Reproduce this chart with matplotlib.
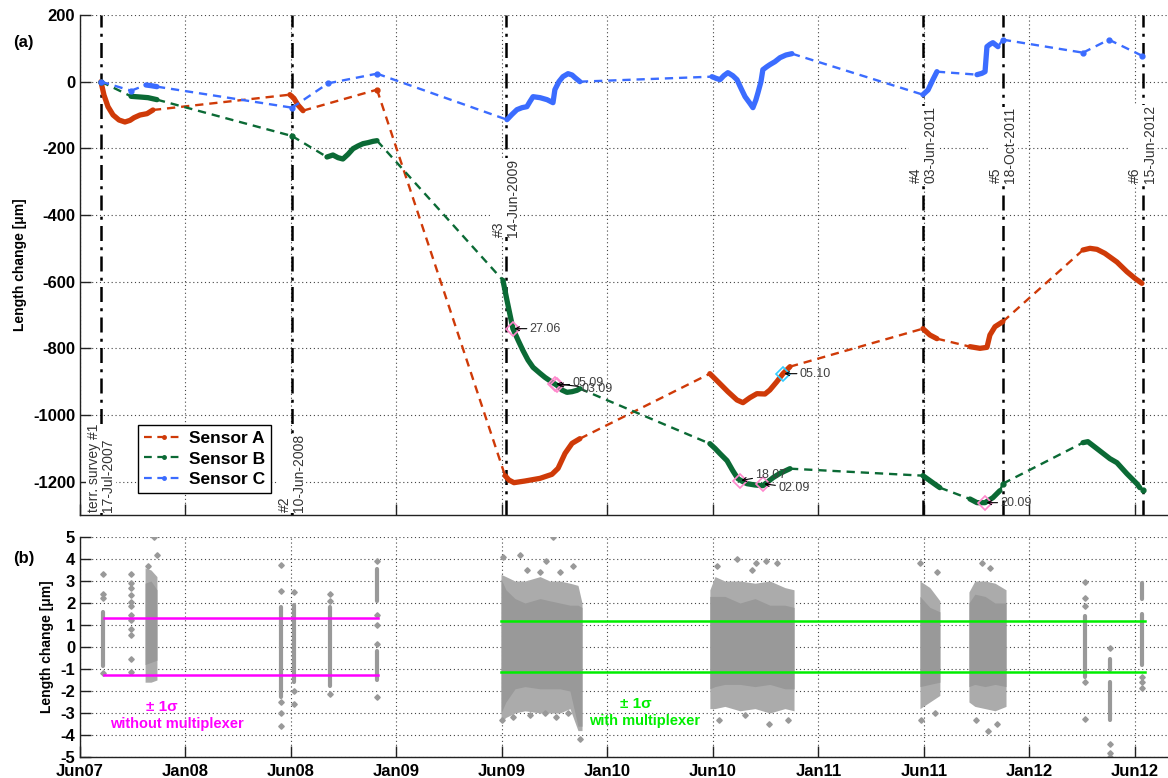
import datetime as dt
import matplotlib
matplotlib.use('Agg')
import matplotlib.pyplot as plt
from matplotlib.lines import Line2D

plt.rcParams['font.family'] = ['Liberation Sans', 'DejaVu Sans']
plt.rcParams['axes.unicode_minus'] = False

# ----------------------------------------------------------------- data
survey_names = ['terr. survey #1', '#2', '#3', '#4', '#5', '#6']
survey_dates = ['17-Jul-2007', '10-Jun-2008', '14-Jun-2009',
                '03-Jun-2011', '18-Oct-2011', '15-Jun-2012']
xtick_labels = ['Jun07', 'Jan08', 'Jun08', 'Jan09', 'Jun09', 'Jan10',
                'Jun10', 'Jan11', 'Jun11', 'Jan12', 'Jun12']
sensor_names = ['Sensor A', 'Sensor B', 'Sensor C']

# time in decimal years, length change in micrometres; one sub-list per measuring period
sensor_a_t = [
    [2007.540, 2007.554, 2007.573, 2007.597, 2007.625, 2007.653, 2007.677, 2007.696, 2007.724, 2007.757, 2007.785],
    [2008.431, 2008.450, 2008.469, 2008.493],
    [2008.842],
    [2009.446, 2009.464, 2009.488, 2009.540, 2009.611, 2009.667, 2009.696, 2009.729, 2009.762, 2009.799],
    [2010.412, 2010.450, 2010.497, 2010.540, 2010.568, 2010.601, 2010.634, 2010.672, 2010.695, 2010.728, 2010.757, 2010.790],
    [2011.417, 2011.450, 2011.483],
    [2011.639, 2011.686, 2011.719, 2011.733, 2011.757, 2011.794],
    [2012.172, 2012.205, 2012.238, 2012.275, 2012.332, 2012.379, 2012.417, 2012.450],
]
sensor_a_v = [
    [0, -40, -75, -100, -115, -121, -116, -108, -100, -96, -85],
    [-39, -50, -70, -87],
    [-24],
    [-1182, -1195, -1203, -1198, -1190, -1178, -1160, -1115, -1085, -1071],
    [-876, -900, -930, -955, -963, -948, -936, -937, -925, -900, -876, -855],
    [-741, -760, -771],
    [-795, -800, -797, -760, -735, -720],
    [-505, -500, -503, -515, -541, -570, -590, -605],
]

sensor_b_t = [
    [2007.540],
    [2007.682, 2007.724, 2007.762, 2007.804],
    [2008.441],
    [2008.606, 2008.634, 2008.658, 2008.681, 2008.705, 2008.729, 2008.752, 2008.776, 2008.799, 2008.823, 2008.842],
    [2009.436, 2009.455, 2009.483, 2009.507, 2009.530, 2009.554, 2009.578, 2009.611, 2009.634, 2009.657,
     2009.691, 2009.714, 2009.738, 2009.762, 2009.785, 2009.799],
    [2010.412, 2010.436, 2010.460, 2010.493, 2010.520, 2010.544, 2010.568, 2010.587, 2010.625, 2010.662,
     2010.686, 2010.710, 2010.743, 2010.790],
    [2011.417, 2011.450, 2011.483, 2011.497],
    [2011.639, 2011.672, 2011.710, 2011.747, 2011.780],
    [2011.794],
    [2012.172, 2012.195, 2012.238, 2012.299, 2012.332, 2012.379, 2012.426, 2012.440],
    [2012.455],
]
sensor_b_v = [
    [0],
    [-44, -46, -48, -54],
    [-163],
    [-226, -220, -228, -232, -218, -201, -193, -186, -183, -179, -177],
    [-596, -656, -741, -775, -806, -835, -857, -875, -887, -897, -911, -925, -932, -930, -926, -921],
    [-1086, -1100, -1116, -1137, -1167, -1191, -1200, -1206, -1210, -1212, -1200, -1188, -1175, -1161],
    [-1182, -1197, -1212, -1218],
    [-1252, -1263, -1263, -1248, -1227],
    [-1206],
    [-1083, -1080, -1101, -1131, -1143, -1176, -1206, -1218],
    [-1224],
]

sensor_c_t = [
    [2007.540],
    [2007.682],
    [2007.752, 2007.776, 2007.804],
    [2008.441],
    [2008.611],
    [2008.842],
    [2009.455, 2009.479, 2009.502, 2009.526, 2009.549, 2009.563, 2009.578, 2009.611, 2009.644, 2009.672,
     2009.681, 2009.700, 2009.719, 2009.743, 2009.762, 2009.776, 2009.799],
    [2010.422, 2010.441, 2010.460, 2010.478, 2010.497, 2010.520, 2010.540, 2010.559, 2010.578, 2010.601,
     2010.615, 2010.629, 2010.639, 2010.653, 2010.662, 2010.681, 2010.695, 2010.719, 2010.743, 2010.771, 2010.799],
    [2011.417, 2011.441, 2011.464, 2011.483],
    [2011.672, 2011.695, 2011.710, 2011.719, 2011.733, 2011.747, 2011.771],
    [2011.794],
    [2012.172],
    [2012.294],
    [2012.450],
]
sensor_c_v = [
    [0],
    [-27],
    [-10, -12, -15],
    [-78],
    [-5],
    [24],
    [-114, -98, -84, -78, -75, -60, -45, -48, -54, -63, -24, 0, 15, 24, 20, 12, 0],
    [15, 10, 6, 18, 27, 18, 6, -20, -45, -65, -78, -55, -33, 0, 36, 45, 51, 60, 72, 80, 84],
    [-39, -25, 6, 30],
    [21, 25, 30, 105, 112, 117, 105],
    [126],
    [87],
    [126],
    [78],
]

# data tips in panel (a)
tip_labels = ['27.06', '05.09', '03.09', '18.07', '02.09', '05.10', '20.09']
tip_t = [2009.483, 2009.691, 2009.681, 2010.554, 2010.662, 2010.757, 2011.710]
tip_v = [-741, -911, -906, -1197, -1206, -876, -1263]

# panel (b): residuals
res_col_t = [2007.549, 2007.682, 2008.389, 2008.450, 2008.620, 2008.842, 2012.183, 2012.299, 2012.450]
res_col_lo = [[-0.85], [], [-2.25], [-1.6], [-1.75], [2.1, -1.5], [-1.35], [-1.05, -3.3], [-0.8, 2.2]]
res_col_hi = [[1.6], [], [1.8], [1.9], [1.8], [3.55, -0.2], [1.4], [-0.55, -1.6], [1.5, 2.9]]
res_col_pts = [
    [3.3, 2.4, 2.25, -1.2],
    [3.3, 2.9, 2.7, 2.35, 2.05, 1.85, 1.45, 1.25, 0.8, 0.55, -0.55, -1.15],
    [3.75, 2.55, -2.5, -3.0, -3.6],
    [2.5, -2.0, -2.6],
    [2.4, 2.1, -2.15],
    [3.9, 1.45, 1.0, 0.15, -2.25],
    [2.95, 2.25, 1.85, -1.6, -3.25],
    [-0.05, -4.4, -4.8, -5.0],
    [-1.35, -1.6, -1.85],
]

res_blk_t = [
    [2007.748, 2007.776, 2007.804],
    [2009.427, 2009.450, 2009.493, 2009.540, 2009.611, 2009.657, 2009.705, 2009.752, 2009.790, 2009.809],
    [2010.412, 2010.436, 2010.483, 2010.554, 2010.625, 2010.695, 2010.766, 2010.809],
    [2011.403, 2011.450, 2011.497],
    [2011.634, 2011.662, 2011.710, 2011.757, 2011.809],
]
res_blk_outer_hi = [[3.6, 3.5, 3.2], [3.3, 3.2, 3.0, 3.0, 3.2, 3.0, 3.0, 2.9, 2.8, 2.0],
                    [2.6, 3.2, 3.0, 3.0, 2.9, 3.0, 2.7, 2.6], [3.0, 2.7, 2.1], [2.5, 3.0, 3.0, 2.9, 2.6]]
res_blk_outer_lo = [[-1.6, -1.6, -1.5], [-3.4, -3.2, -3.0, -2.9, -3.0, -3.0, -3.0, -2.8, -3.8, -3.8],
                    [-2.8, -2.8, -2.7, -2.9, -2.8, -3.0, -2.8, -2.9], [-2.8, -2.5, -2.2], [-2.5, -2.7, -2.8, -2.9, -2.7]]
res_blk_inner_hi = [[2.9, 3.0, 2.6], [3.1, 2.6, 2.2, 2.0, 2.2, 2.1, 2.0, 1.9, 1.9, 1.8],
                    [2.3, 2.3, 2.3, 2.0, 2.2, 1.9, 1.9, 1.8], [2.3, 1.8, 1.6], [2.0, 2.4, 2.3, 2.0, 2.0]]
res_blk_inner_lo = [[-0.8, -0.7, -0.6], [-3.0, -2.5, -1.9, -1.8, -1.9, -1.9, -1.9, -2.0, -3.6, -3.6],
                    [-1.9, -1.8, -1.7, -1.7, -1.8, -1.7, -1.9, -1.9], [-1.8, -1.7, -1.6], [-1.8, -1.7, -1.8, -1.7, -1.8]]

res_out_t = [2007.790, 2007.804, 2007.762,
             2009.436, 2009.516, 2009.672, 2009.639, 2009.766, 2009.549, 2009.611, 2009.705,
             2009.431, 2009.483, 2009.563, 2009.634, 2009.686, 2009.743, 2009.799,
             2010.540, 2010.629, 2010.677, 2010.728, 2010.611, 2010.445, 2010.455, 2010.691, 2010.780, 2010.578,
             2011.403, 2011.483, 2011.408, 2011.474,
             2011.695, 2011.733, 2011.667, 2011.766, 2011.724]
res_out_v = [5.0, 4.2, 3.7,
             4.1, 4.2, 5.0, 3.9, 3.7, 3.5, 3.4, 3.4,
             -3.3, -3.2, -3.1, -3.0, -3.2, -3.0, -4.2,
             4.0, 3.8, 3.9, 3.8, 3.5, 3.7, -3.3, -3.5, -3.3, -3.1,
             3.8, 3.4, -3.3, -3.0,
             3.8, 3.6, -3.3, -3.5, -3.8]

sigma_without = [1.33, -1.25]
sigma_with = [1.18, -1.15]
sigma_without_span = [2007.554, 2008.847]
sigma_with_span = [2009.427, 2012.464]

# ----------------------------------------------------------------- helpers
def decyear(s):
    d = dt.datetime.strptime(s, '%d-%b-%Y')
    start = dt.datetime(d.year, 1, 1)
    ndays = (dt.datetime(d.year + 1, 1, 1) - start).days
    return d.year + (d - start).days / ndays

col_a, col_b, col_c = '#CF3A08', '#0B6A35', '#3B6CFF'
grey = '#999999'

W, H = 1168, 778
fig = plt.figure(figsize=(W / 100, H / 100), dpi=100)
ax1 = fig.add_axes([80 / W, 1 - 515 / H, 1 - 80 / W, 500 / H])
ax2 = fig.add_axes([80 / W, 1 - 757 / H, 1 - 80 / W, 220 / H])

x0 = 2007.441
xstep = 0.4976
xticks = [x0 + i * xstep for i in range(len(xtick_labels))]
xlim = (x0, 2012.573)

for ax in (ax1, ax2):
    ax.set_xlim(*xlim)
    ax.set_xticks(xticks)
    for s in ('top', 'right'):
        ax.spines[s].set_visible(False)
    for s in ('left', 'bottom'):
        ax.spines[s].set_color('#222222')
        ax.spines[s].set_linewidth(1.0)
    ax.set_axisbelow(True)
    ax.grid(True, ls=(0, (1, 2.5)), color='#444444', lw=0.8)
    ax.tick_params(direction='in', length=8, width=1, labelsize=12, color='#222222')

# ---- panel (a)
def draw_sensor(ax, ts, vs, color):
    for i, (t, v) in enumerate(zip(ts, vs)):
        if len(t) > 1:
            ax.plot(t, v, color=color, lw=3.8, solid_capstyle='round',
                    solid_joinstyle='round', zorder=3)
        else:
            ax.plot(t, v, color=color, marker='o', ms=3.5, ls='none', zorder=3)
        if i + 1 < len(ts):
            ax.plot([t[-1], ts[i + 1][0]], [v[-1], vs[i + 1][0]], color=color,
                    lw=1.7, ls=(0, (3.5, 2.5)), zorder=3)

draw_sensor(ax1, sensor_a_t, sensor_a_v, col_a)
draw_sensor(ax1, sensor_b_t, sensor_b_v, col_b)
draw_sensor(ax1, sensor_c_t, sensor_c_v, col_c)

ax1.set_ylim(-1300, 200)
ax1.set_yticks(list(range(-1200, 201, 200)))
ax1.set_yticklabels([str(v) for v in range(-1200, 201, 200)], fontweight='bold')
ax1.set_xticklabels([])
ax1.set_ylabel('Length change [\u03bcm]', fontweight='bold', fontsize=10)
ax1.yaxis.set_label_coords(-0.049, 0.5)

survey_text_y = [-1292, -1292, -465, -305, -305, -305]
for name, ds, ty in zip(survey_names, survey_dates, survey_text_y):
    t = decyear(ds)
    ax1.axvline(t, color='k', lw=1.8, ls=(0, (6, 2.5, 1.2, 2.5)), zorder=2)
    ax1.text(t, ty, name + '\n' + ds, rotation=90, ha='center', va='bottom',
             multialignment='left', fontsize=10, color='#333333', linespacing=1.05,
             bbox=dict(fc='white', ec='none', pad=0.3), zorder=4)

tip_offsets = [(12, 0), (11, 1.5), (19, -3.5), (11, 4), (11, -3), (12, 0), (11, 0)]
tip_colors = ['#FF88CC', '#FF88CC', '#FF88CC', '#FF88CC', '#FF88CC', '#33CCFF', '#FF88CC']
for lab, t, v, off, mc in zip(tip_labels, tip_t, tip_v, tip_offsets, tip_colors):
    ax1.plot([t], [v], marker='D', ms=7, mfc='none', mec=mc, mew=1.2, zorder=5)
    ax1.annotate(lab, xy=(t, v), xytext=off, textcoords='offset points',
                 fontsize=9, color='#404040', va='center', ha='left', zorder=6,
                 arrowprops=dict(arrowstyle='->', color='k', lw=0.8,
                                 shrinkA=0, shrinkB=1, mutation_scale=7))

handles = [Line2D([], [], color=c, ls=(0, (3.5, 2.5)), lw=1.6, marker='.', ms=5)
           for c in (col_a, col_b, col_c)]
leg = ax1.legend(handles, sensor_names, loc='lower left', bbox_to_anchor=(0.053, 0.044),
                 prop={'weight': 'bold', 'size': 12.5}, frameon=True, fancybox=False,
                 edgecolor='k', framealpha=1, borderpad=0.35, labelspacing=0.3,
                 handlelength=2.3, handletextpad=0.3, borderaxespad=0)
leg.get_frame().set_linewidth(1.0)
leg.set_zorder(7)

# ---- panel (b)
for t, o_hi, o_lo, i_hi, i_lo in zip(res_blk_t, res_blk_outer_hi, res_blk_outer_lo,
                                     res_blk_inner_hi, res_blk_inner_lo):
    ax2.fill_between(t, o_lo, o_hi, color='#ababab', lw=0, zorder=2)
    ax2.fill_between(t, i_lo, i_hi, color=grey, lw=0, zorder=2)

for t, los, his, pts in zip(res_col_t, res_col_lo, res_col_hi, res_col_pts):
    for lo, hi in zip(los, his):
        ax2.plot([t, t], [lo, hi], color=grey, lw=3, solid_capstyle='round', zorder=2)
    ax2.plot([t] * len(pts), pts, ls='none', marker='D', ms=2.8, color=grey, zorder=2)

ax2.plot(res_out_t, res_out_v, ls='none', marker='D', ms=2.8, color=grey, zorder=2)

for s in sigma_without:
    ax2.plot(sigma_without_span, [s, s], color='#FF00FF', lw=1.8, zorder=3)
for s in sigma_with:
    ax2.plot(sigma_with_span, [s, s], color='#00EE00', lw=1.8, zorder=3)

ax2.text(2007.825, -2.74, '\u00b1 1\u03c3', color='#FF00FF', fontsize=11, fontweight='bold',
         ha='center', va='center')
ax2.text(2007.899, -3.5, 'without multiplexer', color='#FF00FF', fontsize=10.5,
         fontweight='bold', ha='center', va='center')
ax2.text(2010.063, -2.6, '\u00b1 1\u03c3', color='#00EE00', fontsize=11, fontweight='bold',
         ha='center', va='center')
ax2.text(2010.106, -3.35, 'with multiplexer', color='#00EE00', fontsize=10.5,
         fontweight='bold', ha='center', va='center')

ax2.set_ylim(-5, 5)
ax2.set_yticks(list(range(-5, 6)))
ax2.set_yticklabels([str(v) for v in range(-5, 6)], fontweight='bold')
ax2.set_xticklabels(xtick_labels, fontweight='bold')
ax2.tick_params(axis='x', pad=5)
ax2.set_ylabel('Length change [\u03bcm]', fontweight='bold', fontsize=10)
ax2.yaxis.set_label_coords(-0.024, 0.5)

fig.text(23 / W, 1 - 43 / H, '(a)', ha='center', va='center', fontweight='bold', fontsize=12)
fig.text(24 / W, 1 - 559 / H, '(b)', ha='center', va='center', fontweight='bold', fontsize=12)

fig.savefig('out.png', dpi=100)
